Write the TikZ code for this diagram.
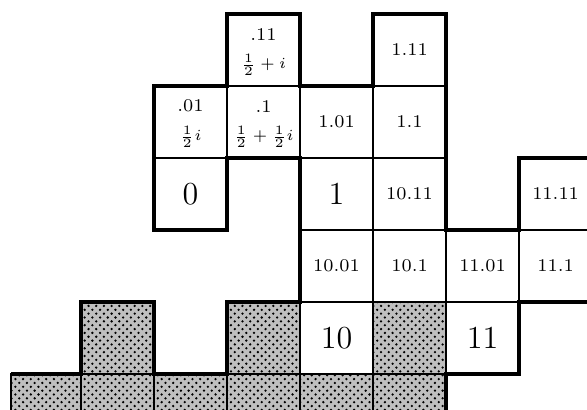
\documentclass[tikz,border=0pt]{standalone}
\usepackage{amsmath}
\usetikzlibrary{patterns}

\begin{document}
\begin{tikzpicture}[x=1cm, y=0.986cm,
  cell/.style={draw, line width=0.6pt},
  dotted cell/.style={cell, preaction={fill=black!25},
    pattern=crosshatch dots, pattern color=black},
  rim/.style={line width=1.8pt, line join=miter},
  small/.style={font=\fontsize{7}{8}\selectfont, inner sep=0.5pt},
  frac/.style={font=\fontsize{6.5}{7}\selectfont, inner sep=0.5pt},
  big/.style={font=\fontsize{12.5}{14}\selectfont}]

\clip (-0.11,0.194) rectangle (7.93,-5.5);

% Plain cells
\foreach \c/\r in {3/0, 5/0, 2/1, 3/1, 4/1, 5/1, 2/2, 4/2, 5/2, 7/2,
                   4/3, 5/3, 6/3, 7/3, 4/4, 6/4}
  \draw[cell] (\c,-\r) rectangle ++(1,-1);

% Dotted cells
\foreach \c/\r in {1/4, 3/4, 5/4, 1/5, 2/5, 3/5, 4/5, 5/5}
  \draw[dotted cell] (\c,-\r) rectangle ++(1,-1);
\draw[dotted cell] (0.04,-5) rectangle (1,-6);

% Outline of the tile
\draw[rim] (0.04,-5) -- (1,-5) -- (1,-4) -- (2,-4) -- (2,-5) -- (3,-5)
  -- (3,-4) -- (4,-4) -- (4,-2) -- (3,-2) -- (3,-3) -- (2,-3) -- (2,-1)
  -- (3,-1) -- (3,0) -- (4,0) -- (4,-1) -- (5,-1) -- (5,0) -- (6,0)
  -- (6,-3) -- (7,-3) -- (7,-2) -- (8.2,-2);
\draw[rim] (8.2,-4) -- (7,-4) -- (7,-5) -- (6,-5) -- (6,-6);

% Labels, top row
\node[small] (a11) at (3.5,-0.28) {.11};
\node[frac] (b11) at (3.5,-0.71) {$\frac{1}{2}+i$};
\node[small] (a111) at (5.5,-0.5) {1.11};

% Labels, second row
\node[small] (a01) at (2.5,-1.28) {.01};
\node[frac] (b01) at (2.5,-1.71) {$\frac{1}{2}i$};
\node[small] (a1) at (3.5,-1.28) {.1};
\node[frac] (b1) at (3.5,-1.71) {$\frac{1}{2}+\frac{1}{2}i$};
\node[small] (a101) at (4.5,-1.5) {1.01};
\node[small] (a11r) at (5.5,-1.5) {1.1};

% Labels, third row
\node[big] (zero) at (2.5,-2.5) {0};
\node[big] (one) at (4.5,-2.5) {1};
\node[small] (a1011) at (5.5,-2.5) {10.11};
\node[small] (a1111) at (7.5,-2.5) {11.11};

% Labels, fourth row
\node[small] (a1001) at (4.5,-3.5) {10.01};
\node[small] (a101r) at (5.5,-3.5) {10.1};
\node[small] (a1101) at (6.5,-3.5) {11.01};
\node[small] (a111r) at (7.5,-3.5) {11.1};

% Labels, fifth row
\node[big] (ten) at (4.5,-4.5) {10};
\node[big] (eleven) at (6.5,-4.5) {11};

\end{tikzpicture}
\end{document}
